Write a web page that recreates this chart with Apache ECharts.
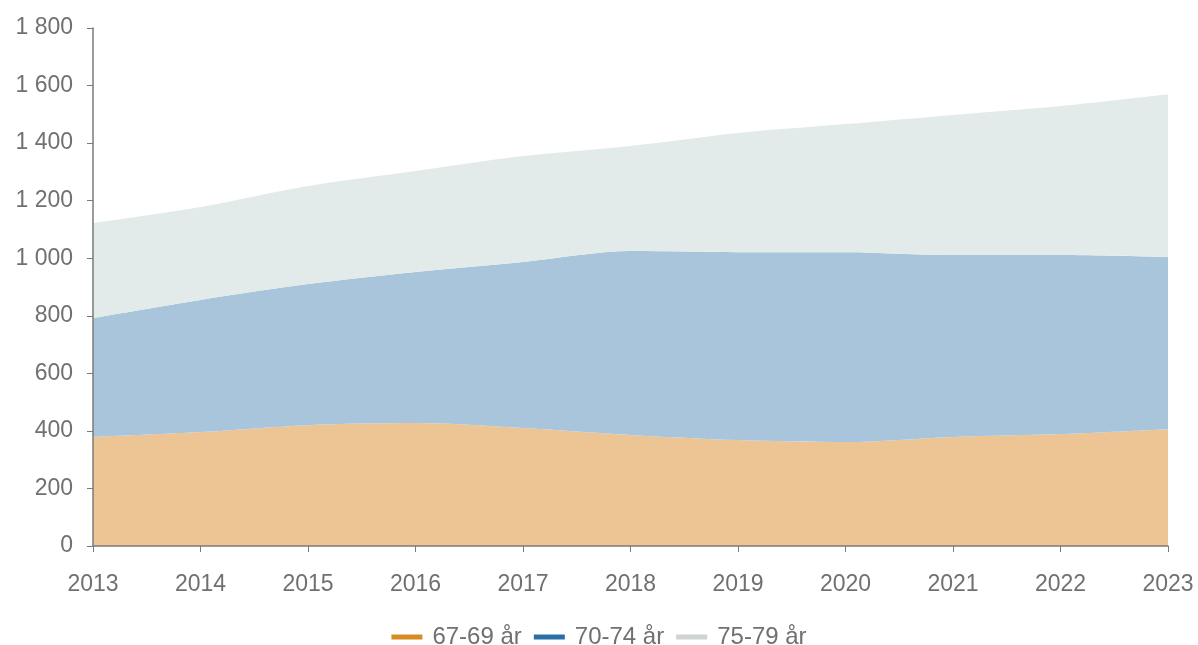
<!DOCTYPE html>
<html><head><meta charset="utf-8">
<script src="https://cdn.jsdelivr.net/npm/echarts@6/dist/echarts.min.js"></script>
<style>html,body{margin:0;padding:0;background:#fff}#c{width:1198px;height:645px}</style>
</head><body><div id="c"></div>
<script>
const years = ['2013','2014','2015','2016','2017','2018','2019','2020','2021','2022','2023'];
const names = ['67-69 år','70-74 år','75-79 år'];
const age6769 = [379, 396, 420, 427, 410, 386, 368, 361, 379, 389, 406];
const age7074 = [413, 459, 490, 525, 577, 639, 653, 660, 632, 622, 598];
const age7579 = [330, 323, 341, 351, 368, 365, 414, 445, 487, 518, 566];

const strong = ['#d98a22', '#2b6ea6', '#cfd3d3'];
const light = ['#edc594', '#a8c5dc', '#e3eaea'];
const fmt = v => String(v).replace(/\B(?=(\d{3})+(?!\d))/g, ' ');
const font = 'Liberation Sans, Arial, sans-serif';

const chart = echarts.init(document.getElementById('c'), null, {renderer:'canvas'});
const mk = (name, data, i) => ({
  name, type:'line', stack:'total', data, smooth:0.3, symbol:'none',
  color: strong[i],
  lineStyle:{width:0, opacity:0},
  areaStyle:{color: light[i], opacity:1},
  z: 2
});
chart.setOption({
  animation:false,
  grid:{left:93, right:30, top:28, bottom:99, containLabel:false},
  legend:{
    top:620, left:'center', icon:'rect', itemWidth:31, itemHeight:5, itemGap:12,
    textStyle:{color:'#707070', fontSize:24, fontFamily:font, padding:[0,0,0,5]},
    data:names
  },
  xAxis:{
    type:'category', data:years, boundaryGap:false, z:10,
    axisLine:{lineStyle:{color:'#7a7a7a', width:1.5}},
    axisTick:{show:true, length:6, lineStyle:{color:'#7a7a7a'}},
    axisLabel:{color:'#707070', fontSize:23, fontFamily:font, margin:27},
    splitLine:{show:false}
  },
  yAxis:{
    type:'value', min:0, max:1800, interval:200, z:10,
    axisLine:{show:true, lineStyle:{color:'#7a7a7a', width:1.5}},
    axisTick:{show:true, length:6, lineStyle:{color:'#7a7a7a'}},
    axisLabel:{color:'#707070', fontSize:23, fontFamily:font, margin:20, formatter:fmt},
    splitLine:{show:false}
  },
  series:[mk(names[0], age6769, 0), mk(names[1], age7074, 1), mk(names[2], age7579, 2)]
});
</script></body></html>
